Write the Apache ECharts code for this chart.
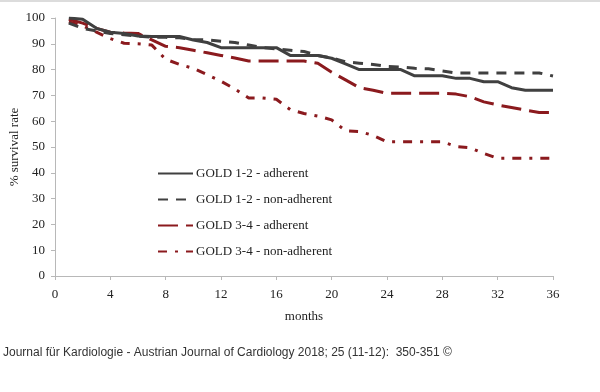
<!DOCTYPE html>
<html><head><meta charset="utf-8">
<script src="https://cdn.jsdelivr.net/npm/echarts@6/dist/echarts.min.js"></script>
<style>html,body{margin:0;padding:0;background:#fff}#c{width:600px;height:392px}</style>
</head><body><div id="c"></div>
<script>
var months = [1,2,3,4,5,6,7,8,9,10,11,12,13,14,15,16,17,18,19,20,21,22,23,24,25,26,27,28,29,30,31,32,33,34,35,36];
var seriesNames = ['GOLD 1-2 - adherent','GOLD 1-2 - non-adherent','GOLD 3-4 - adherent','GOLD 3-4 - non-adherent'];
var gold12Adherent = [100,99.5,96,94.5,94,93,92.8,92.8,92.8,91.5,90.5,88.5,88.5,88.5,88.5,88.5,85.5,85.5,85.5,84.4,82.2,80,80,80,80,77.6,77.6,77.6,76.6,76.6,75.3,75.3,73,72,72,72];
var gold12NonAdherent = [98,96,95,94,93.5,93,92.5,92.5,92.3,91.7,91.5,91,90.5,89.5,88.5,88,87.5,87,85.5,84.5,83,82.5,82,81.2,81,80.5,80.3,79.5,78.7,78.7,78.7,78.7,78.7,78.7,78.7,77.5];
var gold34Adherent = [99.5,98,96,94.5,94.2,94,91.5,89,88.5,87.5,86.5,85.5,84.5,83.3,83.3,83.3,83.3,83.3,82.5,79,76,73,72,70.8,70.8,70.8,70.8,70.8,70.5,69.5,67.5,66.3,65.3,64.3,63.4,63.4];
var gold34NonAdherent = [98.5,97,94.5,92,90.2,90,89.5,84,82,80.5,78,75.5,72.5,69,69,68.5,64.5,63,62,60.5,56.3,56,54.5,52,52,52,52,52,50.2,49.7,47.5,45.6,45.6,45.6,45.6,45.6];
var xTicks = [0,4,8,12,16,20,24,28,32,36];
var yTicks = [0,10,20,30,40,50,60,70,80,90,100];
var caption = 'Journal für Kardiologie - Austrian Journal of Cardiology 2018; 25 (11-12):  350-351 ©';

function pairs(vals){ return months.map(function(m,i){ return [m, vals[i]]; }); }
var serif = 'Liberation Serif';
var gray = '#404040', red = '#8b1a1e';
var styles = [
  {color: gray, type: 'solid'},
  {color: gray, type: [10, 8]},
  {color: red, type: [20, 8]},
  {color: red, type: [9, 8, 3, 8]}
];
var allVals = [gold12Adherent, gold12NonAdherent, gold34Adherent, gold34NonAdherent];
var chart = echarts.init(document.getElementById('c'), null, {renderer: 'canvas'});
chart.setOption({
  animation: false,
  backgroundColor: '#fff',
  title: {text: caption, left: 3, top: 347, padding: 0, textStyle: {fontFamily: 'Liberation Sans', fontSize: 12, fontWeight: 'normal', color: '#333'}},
  graphic: [{type: 'rect', shape: {x: 0, y: 0, width: 600, height: 2}, style: {fill: '#dcdcdc'}}],
  grid: {left: 55, right: 47, top: 18, bottom: 116, outerBoundsMode: 'none', containLabel: false},
  legend: {
    orient: 'vertical', left: 157, top: 167, itemWidth: 35, itemHeight: 14, itemGap: 13,
    padding: 0,
    data: seriesNames,
    itemStyle: {opacity: 0},
    textStyle: {fontFamily: serif, fontSize: 13, color: '#222', padding: [0,0,0,-2]}
  },
  xAxis: {
    type: 'value', min: 0, max: 36, interval: 4,
    name: 'months', nameLocation: 'middle', nameGap: 34, nameMoveOverlap: false,
    nameTextStyle: {fontFamily: serif, fontSize: 13, color: '#222'},
    axisLine: {lineStyle: {color: '#b8b8b8'}},
    axisTick: {show: true, length: 4, lineStyle: {color: '#b8b8b8'}},
    axisLabel: {fontFamily: serif, fontSize: 13, color: '#222', margin: 12, formatter: function(v){ return xTicks.indexOf(v) >= 0 ? String(v) : ''; }},
    splitLine: {show: false}
  },
  yAxis: {
    type: 'value', min: 0, max: 100, interval: 10,
    name: '% survival rate', nameLocation: 'middle', nameGap: 33.5, nameMoveOverlap: false,
    nameTextStyle: {fontFamily: serif, fontSize: 13, color: '#222'},
    axisLine: {show: true, lineStyle: {color: '#b8b8b8'}},
    axisTick: {show: true, length: 4, lineStyle: {color: '#b8b8b8'}},
    axisLabel: {fontFamily: serif, fontSize: 13, color: '#222', margin: 10, formatter: function(v){ return yTicks.indexOf(v) >= 0 ? String(v) : ''; }},
    splitLine: {show: false}
  },
  series: seriesNames.map(function(n, i){
    return {
      name: n, type: 'line', data: pairs(allVals[i]), showSymbol: false, symbol: 'none',
      lineStyle: {color: styles[i].color, width: 3, type: styles[i].type},
      itemStyle: {color: styles[i].color},
      z: 10 - i
    };
  })
});
</script></body></html>
